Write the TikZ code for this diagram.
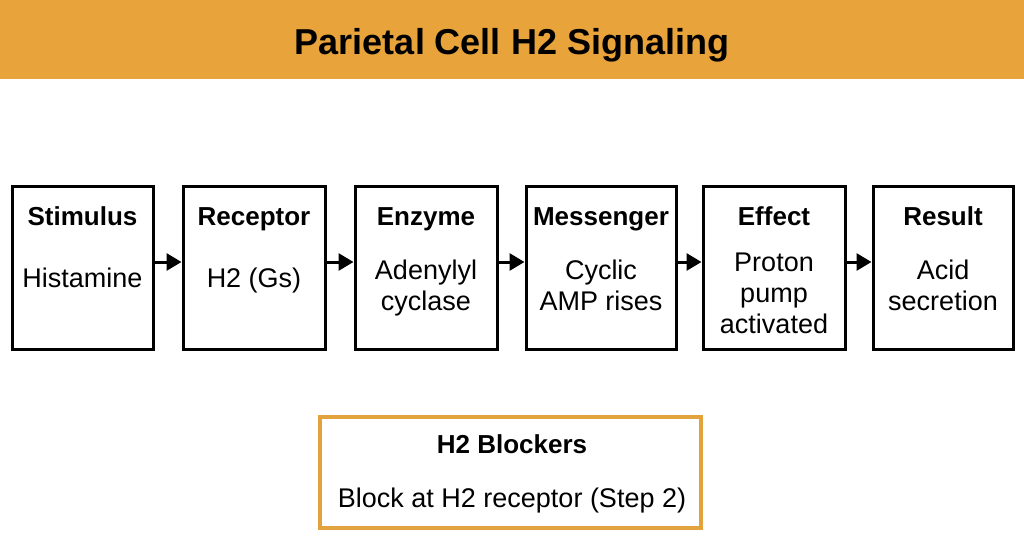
\documentclass[tikz,border=0pt]{standalone}
\usepackage{fontspec}
\setmainfont{Liberation Sans}
\usetikzlibrary{arrows.meta}
\definecolor{hdr}{HTML}{E8A33A}
\definecolor{bord}{HTML}{E2A23C}
\begin{document}
\begin{tikzpicture}[x=1pt,y=-1pt,
  stepbox/.style={draw=black,line width=3pt,minimum width=#1,minimum height=163pt,inner sep=0pt},
  ttl/.style={anchor=base,font=\fontsize{26}{31}\selectfont\bfseries,inner sep=0pt},
  body/.style={anchor=north,align=center,font=\fontsize{27}{31}\selectfont,inner sep=0pt},
  arr/.style={line width=3pt,-{Triangle[length=15pt,width=17pt]}}]
\useasboundingbox (0,0) rectangle (1024,559);
\fill[white] (0,0) rectangle (1024,559);
\fill[hdr] (0,0) rectangle (1024,79);
\node[font=\fontsize{36}{40}\selectfont\bfseries,anchor=base,inner sep=0pt] (title) at (512,55) {Parietal Cell H2 Signaling};

\node[stepbox=141pt] (b1) at (82.5,267.5) {};
\node[stepbox=142pt] (b2) at (254,267.5) {};
\node[stepbox=142pt] (b3) at (426,267.5) {};
\node[stepbox=150pt] (b4) at (601,267.5) {};
\node[stepbox=142pt] (b5) at (774,267.5) {};
\node[stepbox=140pt] (b6) at (943,267.5) {};

\node[ttl] (t1) at (82.5,225) {Stimulus};
\node[ttl] (t2) at (254,225) {Receptor};
\node[ttl] (t3) at (426,225) {Enzyme};
\node[ttl] (t4) at (601,225) {Messenger};
\node[ttl] (t5) at (774,225) {Effect};
\node[ttl] (t6) at (943,225) {Result};

\node[body] (d1) at (82.5,265.3) {\strut Histamine};
\node[body] (d2) at (254,265.3) {\strut H2 (Gs)};
\node[body] (d3) at (426,257.3) {\strut Adenylyl\\cyclase};
\node[body] (d4) at (601,257.3) {\strut Cyclic\\AMP rises};
\node[body] (d5) at (774,249.3) {\strut Proton\\pump\\activated};
\node[body] (d6) at (943,257.3) {\strut Acid\\secretion};

\draw[arr] ([yshift=5.5pt]b1.east) -- ([yshift=5.5pt]b2.west);
\draw[arr] ([yshift=5.5pt]b2.east) -- ([yshift=5.5pt]b3.west);
\draw[arr] ([yshift=5.5pt]b3.east) -- ([yshift=5.5pt]b4.west);
\draw[arr] ([yshift=5.5pt]b4.east) -- ([yshift=5.5pt]b5.west);
\draw[arr] ([yshift=5.5pt]b5.east) -- ([yshift=5.5pt]b6.west);

\node[draw=bord,line width=4pt,minimum width=381pt,minimum height=111pt,inner sep=0pt] (bl) at (510.5,472.5) {};
\node[ttl] (blt) at (512,453) {H2 Blockers};
\node[anchor=base,font=\fontsize{27}{31}\selectfont,inner sep=0pt] (bld) at (512,507) {Block at H2 receptor (Step 2)};
\end{tikzpicture}
\end{document}
